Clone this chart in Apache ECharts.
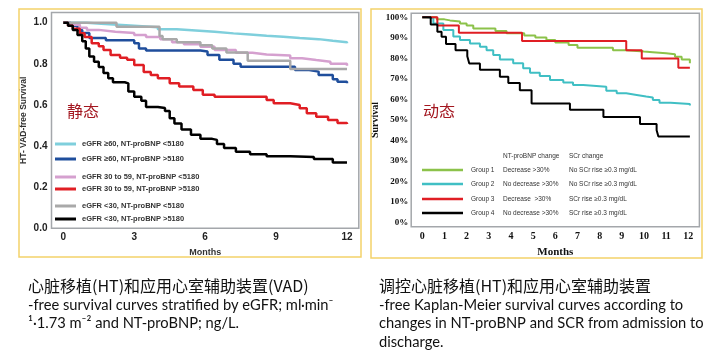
<!DOCTYPE html>
<html>
<head>
<meta charset="utf-8">
<script src="https://cdn.jsdelivr.net/npm/echarts@6/dist/echarts.min.js"></script>
<style>
html, body { margin: 0; padding: 0; background: #fff; }
#chart { width: 717px; height: 352px; }
</style>
</head>
<body>
<div id="chart"></div>
<script>
// ---- 左图：按 eGFR 与 NT-proBNP 分层 ----
const leftNames = [
    'eGFR ≥60, NT-proBNP <5180',
    'eGFR ≥60, NT-proBNP >5180',
    'eGFR 30 to 59, NT-proBNP <5180',
    'eGFR 30 to 59, NT-proBNP >5180',
    'eGFR <30, NT-proBNP <5180',
    'eGFR <30, NT-proBNP >5180'
];
const leftXTicks = [0, 3, 6, 9, 12];
const leftYTicks = [0, 0.2, 0.4, 0.6, 0.8, 1.0];

const hiLowT = [0, 1.0, 1.6, 2.3, 3.0, 4.0, 4.8, 5.6, 6.4, 7.2, 7.9, 8.6, 9.3, 10.0, 10.8, 11.4, 12];
const hiLowV = [1, 0.995, 0.99, 0.985, 0.978, 0.968, 0.962, 0.956, 0.948, 0.943, 0.937, 0.932, 0.925, 0.92, 0.912, 0.905, 0.9];

const hiHighT = [0, 0.3, 0.6, 0.8, 1.1, 1.8, 3.0, 3.2, 3.5, 5.8, 6.1, 6.6, 7.2, 7.5, 9.6, 9.8, 10.4, 10.8, 11.4, 11.6, 12];
const hiHighV = [1, 0.985, 0.965, 0.95, 0.925, 0.915, 0.9, 0.875, 0.865, 0.86, 0.843, 0.82, 0.8, 0.786, 0.786, 0.77, 0.762, 0.745, 0.725, 0.713, 0.705];

const midLowT = [0, 0.3, 0.7, 1.0, 1.5, 2.2, 3.0, 3.5, 4.1, 4.6, 5.1, 5.8, 6.4, 7.3, 8.0, 8.6, 9.6, 10.1, 10.7, 11.3, 12];
const midLowV = [1, 0.99, 0.975, 0.965, 0.956, 0.95, 0.94, 0.93, 0.92, 0.905, 0.895, 0.883, 0.867, 0.854, 0.845, 0.84, 0.827, 0.818, 0.81, 0.8, 0.79];

const midHighT = [0, 0.2, 0.4, 0.7, 0.9, 1.2, 1.5, 1.7, 2.0, 2.4, 2.7, 3.0, 3.4, 3.7, 4.0, 4.5, 4.9, 5.5, 5.9, 6.4, 8.2, 8.6, 8.9, 9.6, 10.0, 10.3, 10.7, 11.2, 11.6, 12];
const midHighV = [1, 0.985, 0.97, 0.948, 0.93, 0.9, 0.885, 0.867, 0.843, 0.83, 0.82, 0.794, 0.76, 0.745, 0.73, 0.705, 0.69, 0.673, 0.65, 0.64, 0.64, 0.624, 0.608, 0.6, 0.584, 0.56, 0.543, 0.527, 0.512, 0.507];

const lowLowT = [0, 2.25, 4.07, 4.2, 4.8, 5.8, 6.3, 6.9, 7.8, 9.6, 12];
const lowLowV = [1, 0.98, 0.935, 0.92, 0.905, 0.89, 0.875, 0.855, 0.815, 0.775, 0.775];

const lowHighT = [0, 0.2, 0.4, 0.6, 0.8, 0.95, 1.1, 1.3, 1.5, 1.7, 1.9, 2.1, 2.6, 2.75, 3.0, 3.3, 3.5, 4.0, 4.3, 4.5, 4.7, 5.0, 5.4, 5.8, 6.3, 6.5, 6.8, 7.3, 7.9, 8.6, 9.6, 10.6, 11.4, 12];
const lowHighV = [1, 0.985, 0.965, 0.94, 0.91, 0.875, 0.835, 0.81, 0.785, 0.755, 0.73, 0.71, 0.705, 0.665, 0.64, 0.62, 0.59, 0.585, 0.57, 0.535, 0.51, 0.48, 0.455, 0.435, 0.43, 0.41, 0.39, 0.372, 0.36, 0.35, 0.347, 0.337, 0.32, 0.32];

// ---- 右图：NT-proBNP 与 SCr 变化分组 ----
const rightGroups = ['Group 1', 'Group 2', 'Group 3', 'Group 4'];
const rightBnp = ['Decrease >30%', 'No decrease >30%', 'Decrease  >30%', 'No decrease >30%'];
const rightScr = ['No SCr rise ≥0.3 mg/dL', 'No SCr rise ≥0.3 mg/dL', 'SCr rise ≥0.3 mg/dL', 'SCr rise ≥0.3 mg/dL'];
const rightXTicks = [0, 1, 2, 3, 4, 5, 6, 7, 8, 9, 10, 11, 12];
const rightYTicks = [0, 10, 20, 30, 40, 50, 60, 70, 80, 90, 100];

const g1T = [0, 0.65, 1.0, 1.25, 1.7, 2.0, 2.3, 3.3, 3.8, 4.6, 5.1, 5.6, 6.0, 6.6, 7.0, 8.6, 9.2, 10.0, 10.4, 11.0, 11.4, 11.7, 12.07];
const g1V = [100, 99, 98.5, 98, 97, 96, 94.5, 93.3, 92.2, 91.2, 90.2, 89, 87.7, 86.5, 85.2, 84, 83.3, 83, 82.5, 82, 80.8, 79.5, 77.6];

const g2T = [0, 0.2, 0.5, 0.95, 1.4, 1.7, 2.15, 2.6, 2.9, 3.2, 3.5, 4.1, 4.55, 4.86, 5.3, 5.76, 6.36, 6.8, 7.26, 8.3, 8.77, 9.2, 9.67, 10.1, 10.4, 10.7, 11.2, 12.07];
const g2V = [100, 99.5, 97, 93.8, 90.6, 89, 87.3, 85.7, 84, 81.7, 79.5, 77.6, 75.2, 73, 71.4, 69.5, 68.2, 67, 66.2, 64.3, 63, 62.2, 61.4, 60.9, 59.7, 58.4, 57.8, 57.1];

const g3T = [0, 0.68, 1.65, 4.5, 9.2, 9.9, 11.55, 12.07];
const g3V = [100, 96, 92.5, 88.5, 84, 80, 75.5, 75.5];

const g4T = [0, 0.38, 0.68, 0.87, 1.07, 1.5, 2.03, 2.12, 2.6, 3.5, 3.88, 4.4, 4.93, 6.66, 8.17, 9.82, 10.57, 10.65, 12.07];
const g4V = [100, 96.5, 93, 90.5, 87, 84, 81, 77.5, 74.5, 71, 68, 64.5, 58, 55, 51.5, 48, 45, 42, 42];

// ---- 下方说明文字 ----
const leftCaption = ['心脏移植(HT)和应用心室辅助装置(VAD)', '-free survival curves stratified by eGFR; ml·min⁻', '¹·1.73 m⁻² and NT-proBNP; ng/L.'];
const rightCaption = ['调控心脏移植(HT)和应用心室辅助装置', '-free Kaplan-Meier survival curves according to', 'changes in NT-proBNP and SCR from admission to', 'discharge.'];

const zip = (t, v) => t.map((x, i) => [x, v[i]]);

const leftColors = ['#7fcfdc', '#1f4e9c', '#d5a0cf', '#e01e24', '#a9a9a9', '#000000'];
const rightColors = ['#8cc24a', '#40bfc4', '#e01e24', '#000000'];
const leftData = [zip(hiLowT, hiLowV), zip(hiHighT, hiHighV), zip(midLowT, midLowV),
    zip(midHighT, midHighV), zip(lowLowT, lowLowV), zip(lowHighT, lowHighV)];
const rightData = [zip(g1T, g1V), zip(g2T, g2V), zip(g3T, g3V), zip(g4T, g4V)];

const sans = 'Liberation Sans';
const serif = 'Liberation Serif';

const myChart = echarts.init(document.getElementById('chart'));

const graphics = [];
// 黄色外框
graphics.push({ type: 'rect', shape: { x: 19, y: 9, width: 342, height: 248 },
    style: { fill: 'none', stroke: '#f3d26a', lineWidth: 1.5 }, z: 1 });
graphics.push({ type: 'rect', shape: { x: 371, y: 9, width: 331, height: 249 },
    style: { fill: 'none', stroke: '#f3d26a', lineWidth: 1.5 }, z: 1 });

// 左图图例
const leftRowY = [144, 159, 177, 189, 206, 219];
leftNames.forEach((n, i) => {
    graphics.push({ type: 'line', shape: { x1: 55, y1: leftRowY[i], x2: 76, y2: leftRowY[i] },
        style: { stroke: leftColors[i], lineWidth: 3 }, z: 10 });
    graphics.push({ type: 'text', x: 82, y: leftRowY[i],
        style: { text: n, fill: '#333', font: 'bold 7.5px ' + sans, textVerticalAlign: 'middle' }, z: 10 });
});

// 右图图例
graphics.push({ type: 'text', x: 503, y: 156, style: { text: 'NT-proBNP change', fill: '#333', font: '6.5px ' + sans, textVerticalAlign: 'middle' }, z: 10 });
graphics.push({ type: 'text', x: 569, y: 156, style: { text: 'SCr change', fill: '#333', font: '6.5px ' + sans, textVerticalAlign: 'middle' }, z: 10 });
const rightRowY = [170, 184, 199, 213];
rightGroups.forEach((g, i) => {
    graphics.push({ type: 'line', shape: { x1: 422, y1: rightRowY[i], x2: 463, y2: rightRowY[i] },
        style: { stroke: rightColors[i], lineWidth: 2.5 }, z: 10 });
    [[471, g], [503, rightBnp[i]], [569, rightScr[i]]].forEach(([x, t]) => {
        graphics.push({ type: 'text', x: x, y: rightRowY[i],
            style: { text: t, fill: '#333', font: '6.5px ' + sans, textVerticalAlign: 'middle' }, z: 10 });
    });
});

// 静态 / 动态
graphics.push({ type: 'text', x: 67, y: 111, style: { text: '静态', fill: '#a3161f', font: '16px "Noto Sans CJK SC"', textVerticalAlign: 'middle' }, z: 10 });
graphics.push({ type: 'text', x: 423, y: 111, style: { text: '动态', fill: '#a3161f', font: '16px "Noto Sans CJK SC"', textVerticalAlign: 'middle' }, z: 10 });

// 说明文字
const capY = [286, 305, 323, 342];
leftCaption.forEach((t, i) => {
    graphics.push({ type: 'text', x: 28, y: capY[i], style: { text: t, fill: '#111',
        font: i === 0 ? '16px "Noto Sans CJK SC"' : '14.7px Lato', textVerticalAlign: 'middle' } });
});
rightCaption.forEach((t, i) => {
    graphics.push({ type: 'text', x: 379, y: capY[i], style: { text: t, fill: '#111',
        font: i === 0 ? '16px "Noto Sans CJK SC"' : '14.7px Lato', textVerticalAlign: 'middle' } });
});

const option = {
    animation: false,
    backgroundColor: '#fff',
    grid: [
        { left: 51.5, top: 12.4, width: 307.3, height: 215.9, show: true, borderColor: '#a4a7ab', borderWidth: 1.5 },
        { left: 411.2, top: 13.2, width: 288.2, height: 213.6, show: true, borderColor: '#a4a7ab', borderWidth: 1.5 }
    ],
    xAxis: [
        { type: 'value', gridIndex: 0, min: -0.5, max: 12.5, interval: 0.5,
          axisLine: { show: false }, axisTick: { show: false }, splitLine: { show: false },
          axisLabel: { margin: 4, color: '#222', fontFamily: sans, fontWeight: 'bold', fontSize: 10,
              formatter: v => leftXTicks.includes(v) ? String(v) : '' },
          name: 'Months', nameLocation: 'middle', nameGap: 20,
          nameTextStyle: { fontFamily: sans, fontWeight: 'bold', fontSize: 9, color: '#333' } },
        { type: 'value', gridIndex: 1, min: -0.5, max: 12.5, interval: 0.5,
          axisLine: { show: false }, axisTick: { show: false }, splitLine: { show: false },
          axisLabel: { margin: 5, color: '#111', fontFamily: serif, fontWeight: 'bold', fontSize: 10,
              formatter: v => rightXTicks.includes(v) ? String(v) : '' },
          name: 'Months', nameLocation: 'middle', nameGap: 18,
          nameTextStyle: { fontFamily: serif, fontWeight: 'bold', fontSize: 11, color: '#111' } }
    ],
    yAxis: [
        { type: 'value', gridIndex: 0, min: 0, max: 1.05, interval: 0.05,
          axisLine: { show: false }, axisTick: { show: false }, splitLine: { show: false },
          axisLabel: { margin: 4, color: '#222', fontFamily: sans, fontWeight: 'bold', fontSize: 10,
              formatter: v => leftYTicks.some(t => Math.abs(t - v) < 1e-6) ? v.toFixed(1) : '' },
          name: 'HT- VAD-free Survival', nameLocation: 'middle', nameGap: 23,
          nameTextStyle: { fontFamily: sans, fontWeight: 'bold', fontSize: 8.5, color: '#333' } },
        { type: 'value', gridIndex: 1, min: -2, max: 102, interval: 2,
          axisLine: { show: false }, axisTick: { show: false }, splitLine: { show: false },
          axisLabel: { margin: 3, color: '#111', fontFamily: serif, fontWeight: 'bold', fontSize: 9,
              formatter: v => rightYTicks.includes(v) ? v + '%' : '' },
          name: 'Survival', nameLocation: 'middle', nameGap: 31,
          nameTextStyle: { fontFamily: serif, fontWeight: 'bold', fontSize: 10, color: '#111' } }
    ],
    series: [
        ...leftData.map((d, i) => ({
            type: 'line', name: leftNames[i], xAxisIndex: 0, yAxisIndex: 0, step: 'end',
            symbol: 'none', data: d, lineStyle: { color: leftColors[i], width: 2.5 }, z: 3 + i
        })),
        ...rightData.map((d, i) => ({
            type: 'line', name: rightGroups[i], xAxisIndex: 1, yAxisIndex: 1, step: 'end',
            symbol: 'none', data: d, lineStyle: { color: rightColors[i], width: 2 }, z: 3 + i
        }))
    ],
    graphic: graphics
};
myChart.setOption(option);
</script>
</body>
</html>
